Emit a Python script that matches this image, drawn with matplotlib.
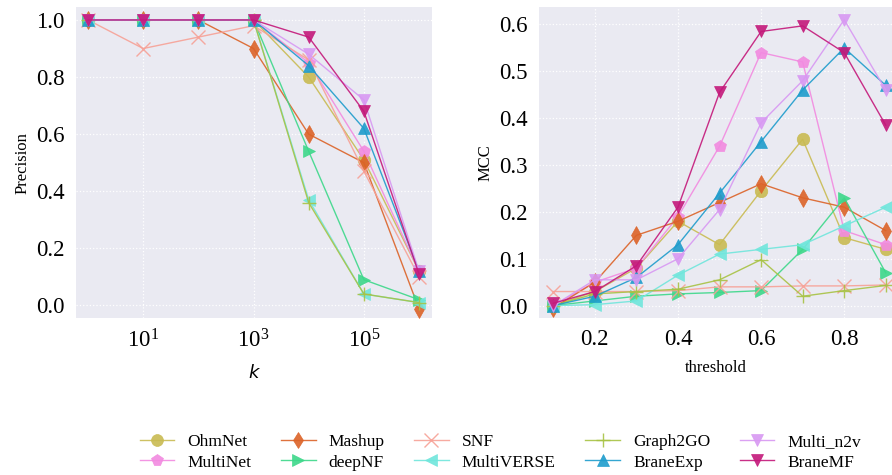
import numpy as np
import matplotlib
matplotlib.use("Agg")
import matplotlib.pyplot as plt

# methods, in legend order
methods = ["OhmNet", "MultiNet", "Mashup", "deepNF", "SNF",
           "MultiVERSE", "Graph2GO", "BraneExp", "Multi_n2v", "BraneMF"]
colors = ["#c9bb52", "#f28ae0", "#dc6328", "#3dd88a", "#f7a196",
          "#70e6dc", "#a8c244", "#1e9ccc", "#d898f2", "#c4187a"]
markers = ["o", "p", "d", ">", "x", "<", "+", "^", "v", "v"]

# precision@k
k_values = [1, 10, 100, 1000, 10000, 100000, 1000000]
precision = {
    "OhmNet":     [1.0, 1.0, 1.0, 1.0, 0.80, 0.51, 0.12],
    "MultiNet":   [1.0, 1.0, 1.0, 1.0, 0.85, 0.54, 0.12],
    "Mashup":     [1.0, 1.0, 1.0, 0.90, 0.60, 0.50, -0.012],
    "deepNF":     [1.0, 1.0, 1.0, 1.0, 0.54, 0.09, 0.02],
    "SNF":        [1.0, 0.90, 0.94, 0.98, 0.86, 0.47, 0.10],
    "MultiVERSE": [1.0, 1.0, 1.0, 1.0, 0.37, 0.04, 0.01],
    "Graph2GO":   [1.0, 1.0, 1.0, 1.0, 0.36, 0.04, 0.01],
    "BraneExp":   [1.0, 1.0, 1.0, 1.0, 0.84, 0.62, 0.12],
    "Multi_n2v":  [1.0, 1.0, 1.0, 1.0, 0.88, 0.72, 0.12],
    "BraneMF":    [1.0, 1.0, 1.0, 1.0, 0.94, 0.68, 0.11],
}

# MCC vs threshold
thresholds = [0.1, 0.2, 0.3, 0.4, 0.5, 0.6, 0.7, 0.8, 0.9]
mcc = {
    "OhmNet":     [0.0, 0.03, 0.08, 0.18, 0.13, 0.245, 0.355, 0.145, 0.12],
    "MultiNet":   [0.0, 0.05, 0.08, 0.19, 0.34, 0.54, 0.52, 0.16, 0.13],
    "Mashup":     [-0.005, 0.05, 0.15, 0.18, 0.22, 0.26, 0.23, 0.21, 0.16],
    "deepNF":     [0.0, 0.01, 0.02, 0.025, 0.028, 0.032, 0.12, 0.23, 0.07],
    "SNF":        [0.03, 0.03, 0.03, 0.032, 0.04, 0.04, 0.042, 0.042, 0.044],
    "MultiVERSE": [0.0, 0.002, 0.01, 0.065, 0.11, 0.12, 0.13, 0.17, 0.21],
    "Graph2GO":   [0.0, 0.025, 0.03, 0.035, 0.055, 0.098, 0.02, 0.032, 0.043],
    "BraneExp":   [0.0, 0.02, 0.06, 0.13, 0.24, 0.35, 0.46, 0.55, 0.47],
    "Multi_n2v":  [0.0, 0.055, 0.055, 0.10, 0.205, 0.39, 0.48, 0.61, 0.46],
    "BraneMF":    [0.005, 0.03, 0.085, 0.21, 0.455, 0.585, 0.597, 0.54, 0.385],
}

plt.rcParams["font.family"] = ["Liberation Serif", "DejaVu Serif"]
plt.rcParams["mathtext.fontset"] = "stix"

fig = plt.figure(figsize=(8.92, 4.75), dpi=100)
ax1 = fig.add_axes([0.085, 0.33, 0.399, 0.655])
ax2 = fig.add_axes([0.604, 0.33, 0.396, 0.655])

for ax in (ax1, ax2):
    ax.set_facecolor("#eaeaf2")
    for s in ax.spines.values():
        s.set_visible(False)
    ax.grid(True, color="white", linestyle=":", linewidth=0.9)
    ax.set_axisbelow(True)
    ax.tick_params(length=0, labelsize=16.5, pad=8)

lines = []
for m, c, mk in zip(methods, colors, markers):
    ms = 10 if mk in ("x", "+") else 9
    kw = dict(color=c, marker=mk, markersize=ms, linewidth=1.0, alpha=0.9,
              markeredgewidth=1.0 if mk in ("x", "+") else 0.5)
    ln, = ax1.plot(k_values, precision[m], label=m, **kw)
    ax2.plot(thresholds, mcc[m], **kw)
    lines.append(ln)

ax1.set_xscale("log")
ax1.set_xlim(0.6, 1.7e6)
ax1.set_ylim(-0.045, 1.045)
ax1.set_xticks([10, 1000, 100000])
ax1.set_xticks([], minor=True)
ax1.set_yticks([0.0, 0.2, 0.4, 0.6, 0.8, 1.0])
ax1.set_ylabel("Precision", fontsize=12)
ax1.set_xlabel("k", fontsize=13, family="DejaVu Sans", style="italic", labelpad=8)

ax2.set_xlim(0.065, 0.915)
ax2.set_ylim(-0.027, 0.637)
ax2.set_xticks([0.2, 0.4, 0.6, 0.8])
ax2.set_yticks([0.0, 0.1, 0.2, 0.3, 0.4, 0.5, 0.6])
ax2.set_ylabel("MCC", fontsize=12)
ax2.set_xlabel("threshold", fontsize=12, labelpad=7)

fig.legend(handles=lines, loc="center", bbox_to_anchor=(0.561, 0.048),
           ncol=5, frameon=False, fontsize=12.5, handlelength=2.0,
           columnspacing=1.7, handletextpad=0.75, labelspacing=0.25,
           borderpad=0.2, markerscale=0.95)

fig.savefig("out.png", dpi=100)
